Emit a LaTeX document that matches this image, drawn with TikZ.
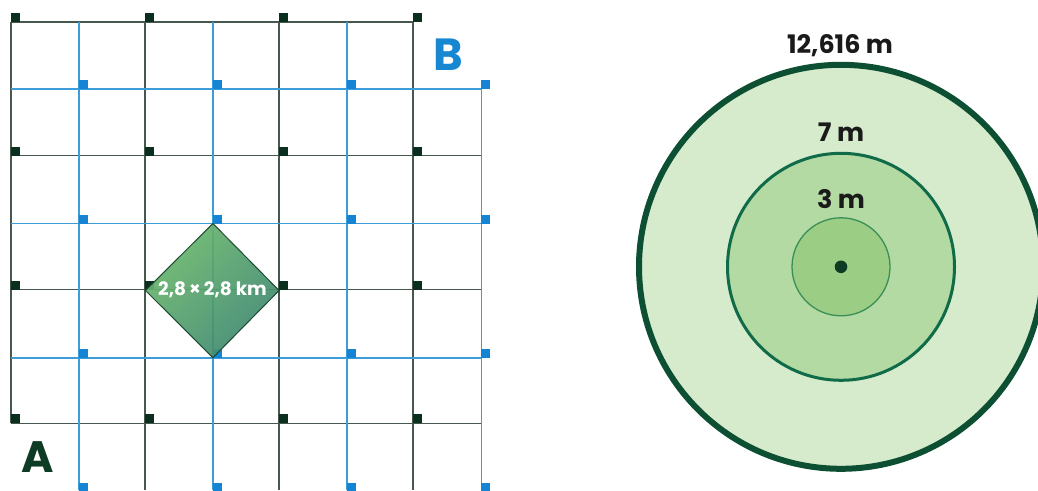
\documentclass[tikz,border=0pt]{standalone}
\usepackage{fontspec}
\setmainfont{Poppins}
\usepackage{xcolor}
\definecolor{GridDark}{HTML}{46584D}
\definecolor{SqDark}{HTML}{0B2F1F}
\definecolor{GridBlue}{HTML}{3D9DDB}
\definecolor{SqBlue}{HTML}{1684D4}
\definecolor{DiaLight}{HTML}{6CB86C}
\definecolor{DiaDark}{HTML}{3C8670}
\definecolor{DiaEdge}{HTML}{1E4A33}
\definecolor{TagA}{HTML}{0D3B24}
\definecolor{TagB}{HTML}{1787D2}
\definecolor{RingOut}{HTML}{0C4F33}
\definecolor{FillOut}{HTML}{D5EBCC}
\definecolor{RingMid}{HTML}{0F6B48}
\definecolor{FillMid}{HTML}{B3DAA2}
\definecolor{RingIn}{HTML}{3A8F58}
\definecolor{FillIn}{HTML}{9BCD84}
\definecolor{TextMain}{HTML}{1A1A1A}

\begin{document}
\begin{tikzpicture}[x=1pt, y=-1pt,
  gridA/.style={draw=GridDark, line width=1.7pt},
  gridB/.style={draw=GridBlue, line width=1.7pt},
  radlbl/.style={text=TextMain, font=\bfseries\fontsize{25.5}{25.5}\selectfont, inner sep=0pt}]

  % Seitenrahmen
  \useasboundingbox (0,0) rectangle (1038,490);
  \clip (0,0) rectangle (1038,490);

  % Gitter A (dunkel)
  \foreach \x in {144.9,279.1,413.3} \draw[gridA] (\x,21.7) -- (\x,490);
  \draw[gridA] (10.7,21.7) -- (10.7,423.4);
  \draw[gridA] (10.7,21.7) -- (413.3,21.7);
  \foreach \y in {155.6,289.5,423.4} \draw[gridA] (10.7,\y) -- (481.5,\y);

  % Gitter B (blau, um halbe Masche versetzt)
  \foreach \x in {78.7,212.9,347.1} \draw[gridB] (\x,21.7) -- (\x,490);
  \draw[gridB] (481.5,89.3) -- (481.5,490);
  \foreach \y in {89.3,223.5,357.7} \draw[gridB] (10.7,\y) -- (481.5,\y);

  % Eckmarken an den Kreuzungspunkten
  \foreach \x in {10.7,144.9,279.1,413.3}
    \foreach \y in {21.7,155.6,289.5,423.4}
      \fill[SqDark] (\x,\y) rectangle ++(9,-9);
  \foreach \x in {78.7,212.9,347.1,481.3}
    \foreach \y in {89.3,223.5,357.7,491.9}
      \fill[SqBlue] (\x,\y) rectangle ++(9,-9);

  % Raute 2,8 x 2,8 km
  \coordinate (dia) at (212.5,290.5);
  \shade[top color=DiaLight, bottom color=DiaDark, shading angle=45, fill opacity=0.92]
    (212.9,223.5) -- (279.1,290.5) -- (212.9,357.7) -- (145.5,290.5) -- cycle;
  \draw[DiaEdge, line width=1pt] (212.9,223.5) -- (279.1,290.5) -- (212.9,357.7) -- (145.5,290.5) -- cycle;
  \node[anchor=base, text=white, font=\bfseries\fontsize{18.5}{18.5}\selectfont, inner sep=0pt]
    (diaLabel) at (212.5,295) {2,8\,×\,2,8 km};

  % Gitterbezeichnungen
  \node[anchor=base west, text=TagA, font=\bfseries\fontsize{44}{44}\selectfont, inner sep=0pt]
    (tagA) at (21,472.7) {A};
  \node[anchor=base west, text=TagB, font=\bfseries\fontsize{45}{45}\selectfont, inner sep=0pt]
    (tagB) at (433,70.7) {B};

  % Probekreise
  \coordinate (ctr) at (841,266.8);
  \filldraw[fill=FillOut, draw=RingOut, line width=6pt] (ctr) circle (202);
  \filldraw[fill=FillMid, draw=RingMid, line width=3pt] (ctr) circle (113.5);
  \filldraw[fill=FillIn, draw=RingIn, line width=1.3pt] (ctr) circle (49);
  \fill[TagA] (ctr) circle (6.3);

  % Radien
  \node[radlbl, anchor=base] (rOut) at (840,53) {12,616 m};
  \node[radlbl, anchor=base] (rMid) at (841,141.7) {7 m};
  \node[radlbl, anchor=base] (rIn) at (841,208) {3 m};

\end{tikzpicture}
\end{document}
